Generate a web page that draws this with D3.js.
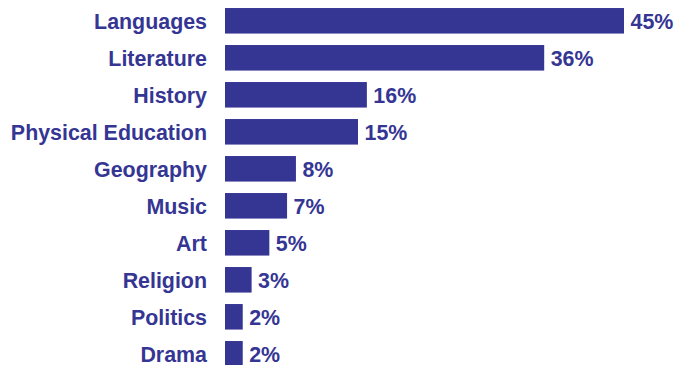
<!DOCTYPE html>
<html>
<head>
<meta charset="utf-8">
<script src="https://cdn.jsdelivr.net/npm/d3@7"></script>
<style>
  body { margin: 0; background: #fff; }
  text { font-family: "Liberation Sans", Arial, sans-serif; font-weight: bold; }
</style>
</head>
<body>
<div class="canvas"></div>
<script>
// Data
var subjects = ['Languages', 'Literature', 'History', 'Physical Education', 'Geography',
  'Music', 'Art', 'Religion', 'Politics', 'Drama'];
var shares = [45, 36, 16, 15, 8, 7, 5, 3, 2, 2];

var width = 674, height = 365;
var colour = '#353594';

var svg = d3.select('.canvas').append('svg').attr('width', width).attr('height', height);

var data = subjects.map(function (s, i) { return { subject: s, value: shares[i] }; });

// Scales
var x = d3.scaleLinear().domain([0, 45]).range([225, 624]);
var y = d3.scaleBand().domain(subjects).range([2.3, 372.3]).paddingInner(0.31).paddingOuter(0.155);

// Bars
svg.selectAll('rect').data(data).enter().append('rect')
  .attr('x', x(0))
  .attr('y', function (d) { return y(d.subject); })
  .attr('width', function (d) { return x(d.value) - x(0); })
  .attr('height', y.bandwidth())
  .attr('fill', colour);

// Category labels
svg.selectAll('.cat').data(data).enter().append('text')
  .attr('class', 'cat')
  .attr('x', 207)
  .attr('y', function (d) { return y(d.subject) + y.bandwidth() / 2 + 8; })
  .attr('text-anchor', 'end')
  .attr('font-size', 21.4)
  .attr('fill', colour)
  .text(function (d) { return d.subject; });

// Value labels
svg.selectAll('.val').data(data).enter().append('text')
  .attr('class', 'val')
  .attr('x', function (d) { return x(d.value) + 6.5; })
  .attr('y', function (d) { return y(d.subject) + y.bandwidth() / 2 + 8; })
  .attr('font-size', 21.4)
  .attr('fill', colour)
  .text(function (d) { return d.value + '%'; });
</script>
</body>
</html>
